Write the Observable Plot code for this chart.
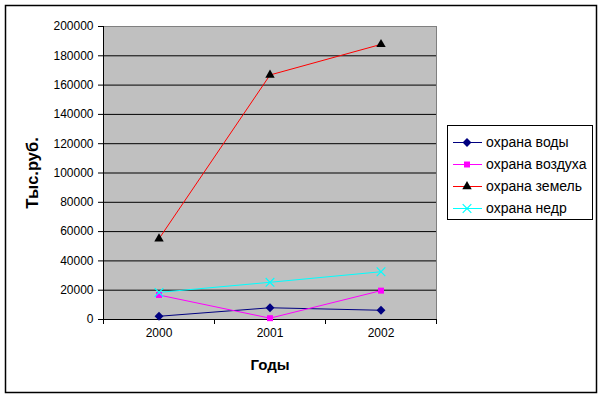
<!DOCTYPE html>
<html>
<head>
<meta charset="utf-8">
<script src="https://cdn.jsdelivr.net/npm/d3@7"></script>
<script src="https://cdn.jsdelivr.net/npm/@observablehq/plot@0.6"></script>
<style>
  body { margin: 0; background: #ffffff; }
  #chart { position: relative; width: 602px; height: 397px; }
  #chart svg { position: absolute; left: 0; top: 0; }
</style>
</head>
<body>
<div id="chart"></div>
<script>
const years = [2000, 2001, 2002];
const seriesNames = ["охрана воды", "охрана воздуха", "охрана земель", "охрана недр"];
const water = [2200, 8000, 6300];
const air = [16700, 900, 19700];
const land = [55100, 166900, 187800];
const nedr = [18500, 25400, 32600];
const yTicks = [0, 20000, 40000, 60000, 80000, 100000, 120000, 140000, 160000, 180000, 200000];
const yLabel = "Тыс.руб.";
const xLabel = "Годы";

const seriesValues = [water, air, land, nedr];
const lineColors = ["#000080", "#ff00ff", "#ff0000", "#00ffff"];
const markFill = ["#000080", "#ff00ff", "#000000", "none"];
const markStroke = ["none", "none", "none", "#00ffff"];
const symbols = ["diamond2", "square2", "triangle2", "times"];
const symbolD3 = [d3.symbolDiamond2, d3.symbolSquare2, d3.symbolTriangle2, d3.symbolTimes];
const symR = [4, 3.8, 4.5, 4];

const rows = [];
seriesNames.forEach((name, i) => years.forEach((yr, j) => rows.push({series: name, i, year: yr, value: seriesValues[i][j]})));
const bounds = [years[0] - 0.5, ...years.map(y => y + 0.5)];

const container = document.getElementById("chart");

// outer border (background layer)
const bg = d3.create("svg").attr("width", 602).attr("height", 397);
bg.append("rect").attr("x", 5.5).attr("y", 5.5).attr("width", 591).attr("height", 387)
  .attr("fill", "#fff").attr("stroke", "#000").attr("stroke-width", 1.5);
container.appendChild(bg.node());

const marks = [
  Plot.frame({fill: "#c0c0c0", stroke: "#808080"}),
  Plot.ruleY(yTicks.filter(t => t > 0 && t < 200000), {stroke: "#000", strokeWidth: 1}),
  Plot.ruleY([0], {stroke: "#000"}),
  Plot.ruleX([bounds[0]], {stroke: "#000"}),
];
seriesNames.forEach((name, i) => {
  const d = rows.filter(r => r.i === i);
  marks.push(Plot.line(d, {x: "year", y: "value", stroke: lineColors[i], strokeWidth: 1}));
});
seriesNames.forEach((name, i) => {
  const d = rows.filter(r => r.i === i);
  marks.push(Plot.dot(d, {x: "year", y: "value", symbol: () => symbols[i], r: symR[i], fill: markFill[i], stroke: markStroke[i], strokeWidth: 1.2}));
});
marks.push(
  Plot.axisY({ticks: yTicks, tickFormat: d3.format("d"), tickSize: 5, tickPadding: 5, label: null, stroke: "#000"}),
  Plot.axisX({ticks: years, tickSize: 0, tickPadding: 9, tickFormat: "d", label: null}),
  Plot.axisX({ticks: bounds, tickSize: 5, tickFormat: () => "", label: null, stroke: "#000"}),
  Plot.text([yLabel], {frameAnchor: "left", dx: -71, rotate: -90, textAnchor: "middle", lineAnchor: "middle", fontWeight: "bold", fontSize: 16.5, fill: "#000"}),
  Plot.text([xLabel], {frameAnchor: "bottom", dy: 46, textAnchor: "middle", lineAnchor: "middle", fontWeight: "bold", fontSize: 15, fill: "#000"})
);

const plot = Plot.plot({
  width: 602, height: 397,
  marginLeft: 103, marginRight: 166, marginTop: 26, marginBottom: 78,
  x: {type: "linear", domain: [bounds[0], bounds[bounds.length - 1]]},
  y: {domain: [0, 200000]},
  symbol: {type: "identity"},
  style: {fontFamily: "'Liberation Sans', Arial, sans-serif", fontSize: "12px", color: "#000", background: "transparent", overflow: "visible"},
  marks
});
container.appendChild(plot);

// legend overlay
const lgSvg = d3.create("svg").attr("width", 602).attr("height", 397)
  .attr("font-family", "'Liberation Sans', Arial, sans-serif");
lgSvg.append("rect").attr("x", 447.5).attr("y", 125.5).attr("width", 145).attr("height", 94)
  .attr("fill", "#fff").attr("stroke", "#000").attr("stroke-width", 1);
seriesNames.forEach((name, i) => {
  const cy = 142 + i * 22;
  lgSvg.append("line").attr("x1", 453).attr("x2", 482).attr("y1", cy + 0.5).attr("y2", cy + 0.5)
    .attr("stroke", lineColors[i]).attr("stroke-width", 1);
  lgSvg.append("path").attr("transform", `translate(467,${cy + 0.5})`)
    .attr("d", d3.symbol(symbolD3[i], Math.PI * symR[i] * symR[i])())
    .attr("fill", markFill[i]).attr("stroke", markStroke[i]).attr("stroke-width", 1.2);
  lgSvg.append("text").attr("x", 486).attr("y", cy).attr("dy", "0.35em")
    .attr("text-anchor", "start").attr("font-size", 14).attr("fill", "#000").text(name);
});
container.appendChild(lgSvg.node());
</script>
</body>
</html>
